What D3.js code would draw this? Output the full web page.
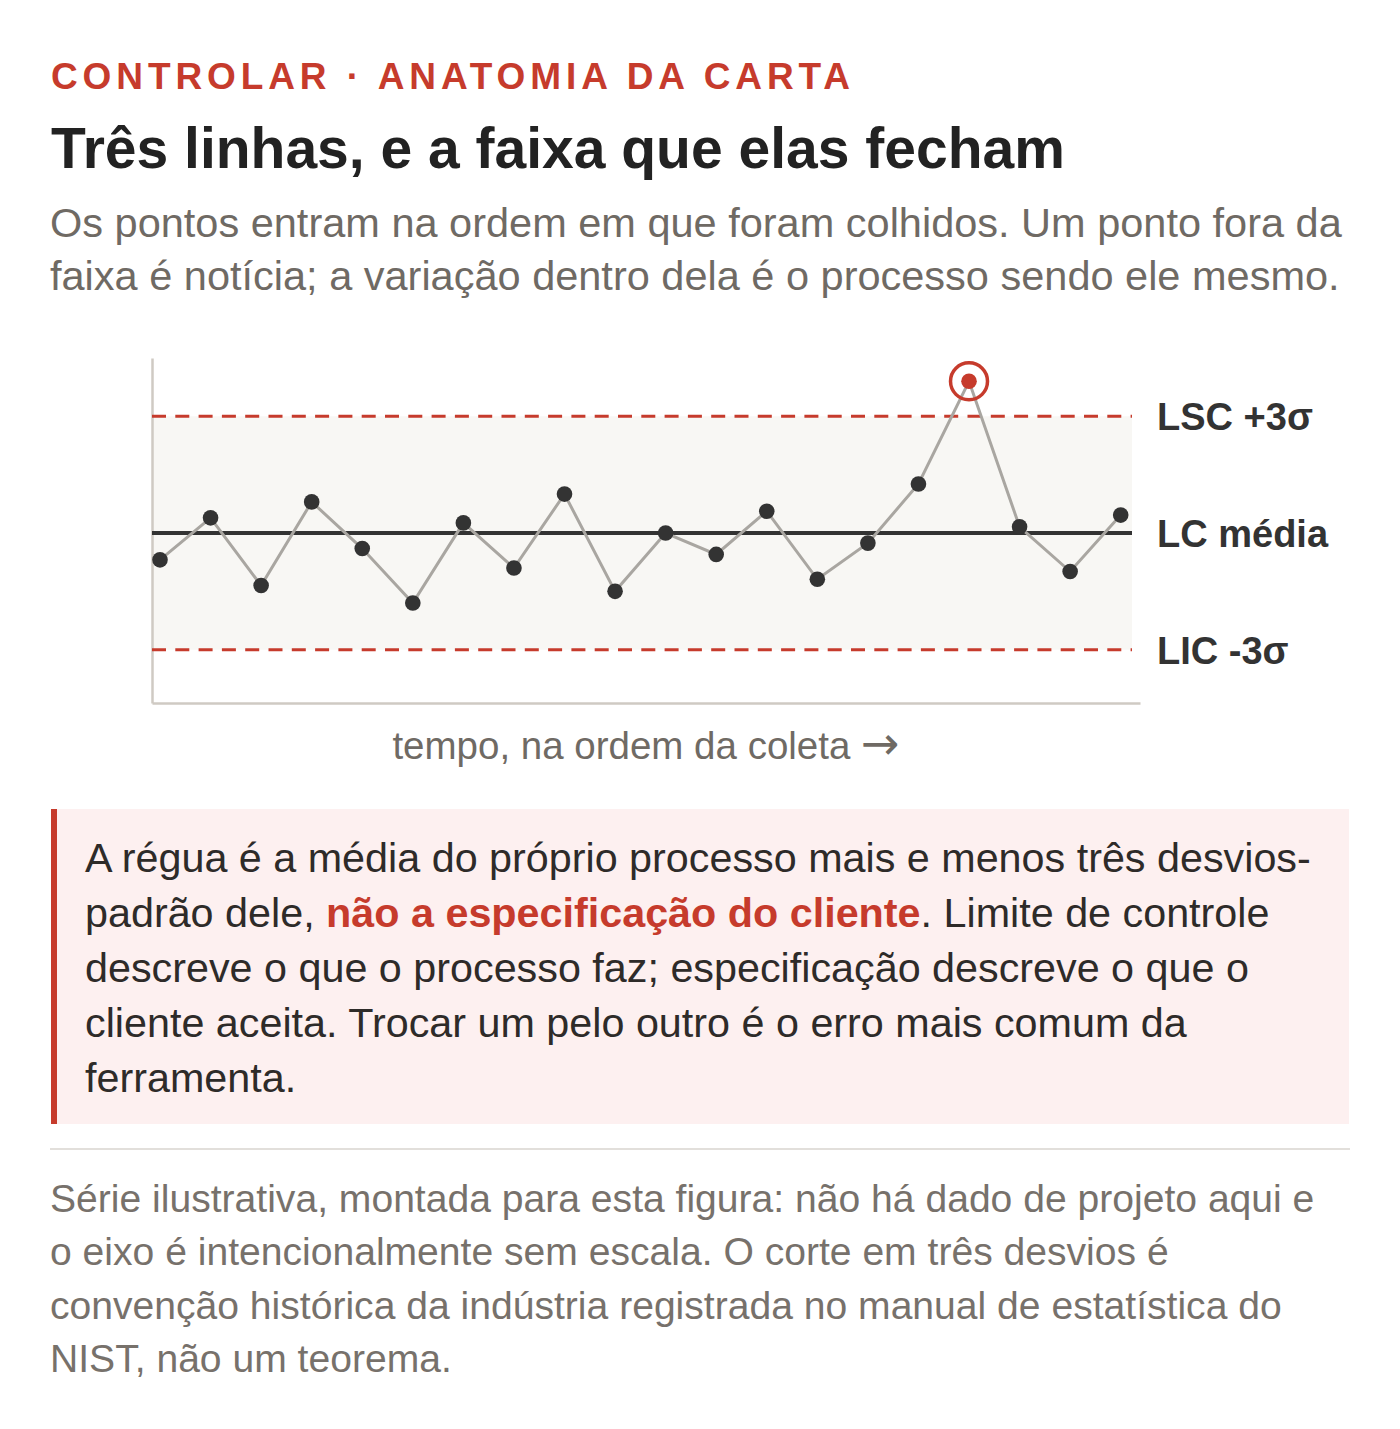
<!DOCTYPE html>
<html lang="pt">
<head>
<meta charset="UTF-8">
<title>Carta de controle</title>
<style>
  body { margin: 0; background: #fff; }
  svg { display: block; font-family: "Liberation Sans", Arial, Helvetica, sans-serif; }
</style>
</head>
<body>
<script src="https://cdnjs.cloudflare.com/ajax/libs/d3/7.8.5/d3.min.js"></script>
<script>

// dados (em desvios-padrão em torno da média)
const pontos = [-0.69, 0.39, -1.35, 0.80, -0.40, -1.80, 0.26, -0.90, 1.00, -1.50,
                0.00, -0.55, 0.56, -1.19, -0.26, 1.26, 3.90, 0.16, -0.99, 0.46]

const limites = [
    {nome : "LSC +3σ", v : 3, tracejado : true},
    {nome : "LC média", v : 0, tracejado : false},
    {nome : "LIC -3σ", v : -3, tracejado : true}
]

const kicker = "CONTROLAR · ANATOMIA DA CARTA"
const titulo = "Três linhas, e a faixa que elas fecham"
const subtitulo = [
    "Os pontos entram na ordem em que foram colhidos. Um ponto fora da",
    "faixa é notícia; a variação dentro dela é o processo sendo ele mesmo."
]
const rotuloX = "tempo, na ordem da coleta"
const seta = "→"

// cada linha: [texto, destaque]
const caixa = [
    [["A régua é a média do próprio processo mais e menos três desvios-", false]],
    [["padrão dele, ", false], ["não a especificação do cliente", true], [". Limite de controle", false]],
    [["descreve o que o processo faz; especificação descreve o que o", false]],
    [["cliente aceita. Trocar um pelo outro é o erro mais comum da", false]],
    [["ferramenta.", false]]
]

const nota = [
    "Série ilustrativa, montada para esta figura: não há dado de projeto aqui e",
    "o eixo é intencionalmente sem escala. O corte em três desvios é",
    "convenção histórica da indústria registrada no manual de estatística do",
    "NIST, não um teorema."
]

const vermelho = "#c63b2c"
const w = 1400
const h = 1429

const svg = d3.select("body")
    .append("svg")
        .attr("width", w)
        .attr("height", h)

// cabeçalho
svg.append("text")
    .attr("x", 51).attr("y", 89)
    .style("font-size", "37px").style("font-weight", "bold")
    .style("letter-spacing", "4.9px")
    .style("fill", vermelho)
    .text(kicker)

svg.append("text")
    .attr("x", 51).attr("y", 168)
    .style("font-size", "57px").style("font-weight", "bold")
    .style("fill", "#222")
    .text(titulo)

svg.append("text")
    .attr("x", 50).attr("y", 237)
    .style("font-size", "41.5px")
    .style("fill", "#6f6a64")
    .selectAll("tspan")
    .data(subtitulo)
    .enter()
    .append("tspan")
        .attr("x", 50)
        .attr("dy", (d, i) => i == 0 ? 0 : 53)
        .text(d => d)

// carta
const echelleX = d3.scaleLinear()
    .domain([0, pontos.length - 1])
    .range([160, 1120.7])

const echelleY = d3.scaleLinear()
    .domain([-3, 3])
    .range([649.7, 416.3])

const gauche = 152, droite = 1140, finFaixa = 1132
const haut = echelleY(4.5), bas = echelleY(-4.37)

const carta = svg.append("g")

// faixa entre os limites
carta.append("rect")
    .attr("x", gauche)
    .attr("y", echelleY(3))
    .attr("width", finFaixa - gauche)
    .attr("height", echelleY(-3) - echelleY(3))
    .style("fill", "#f8f7f4")

// eixos sem escala
const axeY = d3.axisLeft(d3.scaleLinear().range([bas, haut])).tickValues([]).tickSizeOuter(0)
const axeX = d3.axisBottom(d3.scaleLinear().range([gauche, droite])).tickValues([]).tickSizeOuter(0)

carta.append("g")
    .attr("transform", `translate(${gauche},0)`)
    .call(axeY)
    .select(".domain").style("stroke", "#cfcac3").style("stroke-width", 2.5)

carta.append("g")
    .attr("transform", `translate(0,${bas})`)
    .call(axeX)
    .select(".domain").style("stroke", "#cfcac3").style("stroke-width", 2.5)

// linhas de limite
carta.selectAll("line.limite")
    .data(limites)
    .enter()
    .append("line")
        .attr("class", "limite")
        .attr("x1", gauche)
        .attr("x2", finFaixa)
        .attr("y1", d => echelleY(d.v))
        .attr("y2", d => echelleY(d.v))
        .style("stroke", d => d.tracejado ? vermelho : "#333")
        .style("stroke-width", d => d.tracejado ? 3 : 3.8)
        .style("stroke-dasharray", d => d.tracejado ? "14,9.3" : null)

carta.selectAll("text.limite")
    .data(limites)
    .enter()
    .append("text")
        .attr("class", "limite")
        .attr("x", 1157)
        .attr("y", d => echelleY(d.v) + 14)
        .style("font-size", "38px").style("font-weight", "bold")
        .style("fill", "#333")
        .text(d => d.nome)

// série
const ligne = d3.line()
    .x((d, i) => echelleX(i))
    .y(d => echelleY(d))

carta.append("path")
    .datum(pontos)
    .attr("d", ligne)
    .style("fill", "none")
    .style("stroke", "#a9a6a1")
    .style("stroke-width", 3)

const fora = d => Math.abs(d) > 3

carta.selectAll("circle.anel")
    .data(pontos.map((d, i) => ({d, i})).filter(p => fora(p.d)))
    .enter()
    .append("circle")
        .attr("class", "anel")
        .attr("cx", p => echelleX(p.i))
        .attr("cy", p => echelleY(p.d))
        .attr("r", 18.5)
        .style("fill", "none")
        .style("stroke", vermelho)
        .style("stroke-width", 3.5)

carta.selectAll("circle.ponto")
    .data(pontos)
    .enter()
    .append("circle")
        .attr("class", "ponto")
        .attr("cx", (d, i) => echelleX(i))
        .attr("cy", d => echelleY(d))
        .attr("r", 7.8)
        .style("fill", d => fora(d) ? vermelho : "#333")

const rotulo = svg.append("text")
    .attr("x", (gauche + droite) / 2)
    .attr("y", 759)
    .attr("text-anchor", "middle")
    .style("font-size", "38.5px")
    .style("fill", "#6f6a64")
rotulo.append("tspan").text(rotuloX + " ")
rotulo.append("tspan").style("font-family", "'DejaVu Sans'").style("font-size", "46px").text(seta)

// caixa de destaque
svg.append("rect")
    .attr("x", 51).attr("y", 809)
    .attr("width", 1298).attr("height", 315)
    .style("fill", "#fdf0f0")

svg.append("rect")
    .attr("x", 51).attr("y", 809)
    .attr("width", 6).attr("height", 315)
    .style("fill", vermelho)

const texteCaixa = svg.append("text")
    .style("font-size", "41.3px")
    .style("fill", "#2e2b29")

caixa.forEach((linha, i) => {
    linha.forEach((seg, j) => {
        const t = texteCaixa.append("tspan").text(seg[0])
        if (j == 0) t.attr("x", 85).attr("y", 872 + i * 55)
        if (seg[1]) t.style("font-weight", "bold").style("fill", vermelho)
    })
})

// separador e nota
svg.append("line")
    .attr("x1", 50).attr("x2", 1350)
    .attr("y1", 1149).attr("y2", 1149)
    .style("stroke", "#e2dfdb").style("stroke-width", 2)

svg.append("text")
    .attr("y", 1212)
    .style("font-size", "39.1px")
    .style("fill", "#77716b")
    .selectAll("tspan")
    .data(nota)
    .enter()
    .append("tspan")
        .attr("x", 50)
        .attr("dy", (d, i) => i == 0 ? 0 : 53.3)
        .text(d => d)

</script>
</body>
</html>
